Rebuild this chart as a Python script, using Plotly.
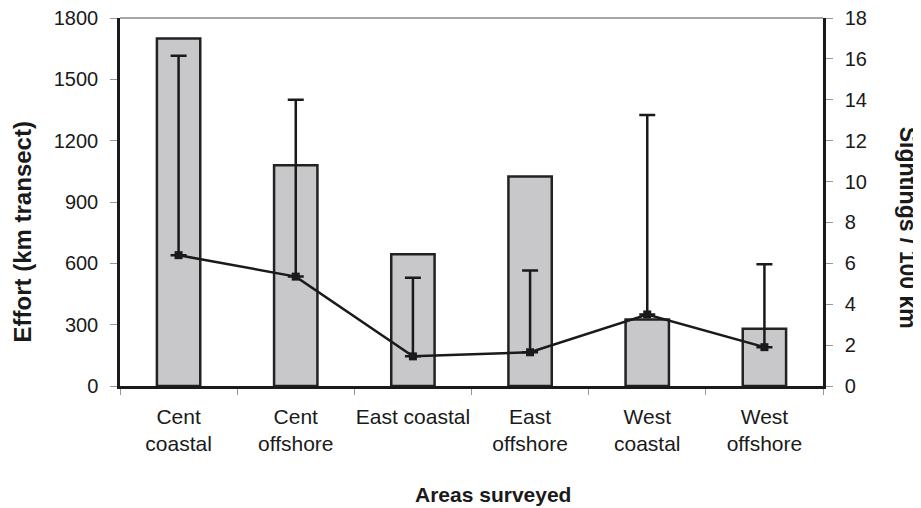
import plotly.graph_objects as go

categories = ["Cent<br>coastal", "Cent<br>offshore", "East coastal", "East<br>offshore", "West<br>coastal", "West<br>offshore"]
effort_km = [1700, 1080, 645, 1025, 325, 280]
sightings_per_100km = [6.4, 5.35, 1.45, 1.65, 3.5, 1.9]
sightings_upper_err = [9.75, 8.65, 3.85, 4.0, 9.75, 4.05]

left_ticks = [0, 300, 600, 900, 1200, 1500, 1800]
right_ticks = [0, 2, 4, 6, 8, 10, 12, 14, 16, 18]

FONT = "Liberation Sans, Arial, sans-serif"

fig = go.Figure()
fig.add_trace(go.Bar(
    x=categories, y=effort_km,
    marker=dict(color="#c8c8ca", line=dict(color="#222222", width=2.5)),
    width=0.37, yaxis="y", showlegend=False,
))
fig.add_trace(go.Scatter(
    x=categories, y=sightings_per_100km, yaxis="y2", mode="lines+markers",
    line=dict(color="#1a1a1a", width=2.5),
    marker=dict(symbol="square", size=8, color="#1a1a1a"),
    error_y=dict(type="data", symmetric=False, array=sightings_upper_err,
                 arrayminus=[0] * len(categories), color="#1a1a1a",
                 thickness=2.5, width=8),
    showlegend=False,
))

# page body has an 8px default margin, so the figure is sized to fit the window
fig.update_layout(
    width=913, height=500,
    margin=dict(l=112, r=98, t=10, b=122),
    paper_bgcolor="white", plot_bgcolor="white",
    font=dict(family=FONT, size=20, color="#1a1a1a"),
    xaxis=dict(
        type="category", tickson="boundaries", ticks="outside", ticklen=6,
        tickcolor="#999999", showline=True, linecolor="#1a1a1a", linewidth=2.5,
        showgrid=False, tickfont=dict(size=21), range=[-0.5, 5.5], tickangle=0,
        automargin=False, ticklabelstandoff=10,
    ),
    yaxis=dict(
        range=[0, 1800], tickvals=left_ticks, ticks="outside", ticklen=7,
        tickcolor="#999999", showline=True, linecolor="#1a1a1a", linewidth=2.5,
        showgrid=False, zeroline=False, tickfont=dict(size=20),
        automargin=False, ticklabelstandoff=8, ticklabeloverflow="allow",
    ),
    yaxis2=dict(
        range=[0, 18], tickvals=right_ticks, overlaying="y", side="right",
        ticks="outside", ticklen=7, tickcolor="#999999", showline=True,
        linecolor="#1a1a1a", linewidth=2.5, showgrid=False, zeroline=False,
        tickfont=dict(size=20), automargin=False, ticklabelstandoff=8,
        ticklabeloverflow="allow",
    ),
    shapes=[dict(type="line", xref="paper", yref="paper", x0=0, x1=1, y0=1, y1=1,
                 line=dict(color="#888888", width=1.5))],
    annotations=[
        dict(text="<b>Effort (km transect)</b>", xref="paper", yref="paper",
             x=-0.139, y=0.418, xanchor="center", yanchor="middle", textangle=-90,
             showarrow=False, font=dict(size=24)),
        dict(text="<b>Sightings / 100 km</b>", xref="paper", yref="paper",
             x=1.121, y=0.43, xanchor="center", yanchor="middle", textangle=90,
             showarrow=False, font=dict(size=23)),
        dict(text="<b>Areas surveyed</b>", xref="paper", yref="paper",
             x=0.53, y=-0.296, xanchor="center", yanchor="middle",
             showarrow=False, font=dict(size=21)),
    ],
)

fig.write_html("out.html")
